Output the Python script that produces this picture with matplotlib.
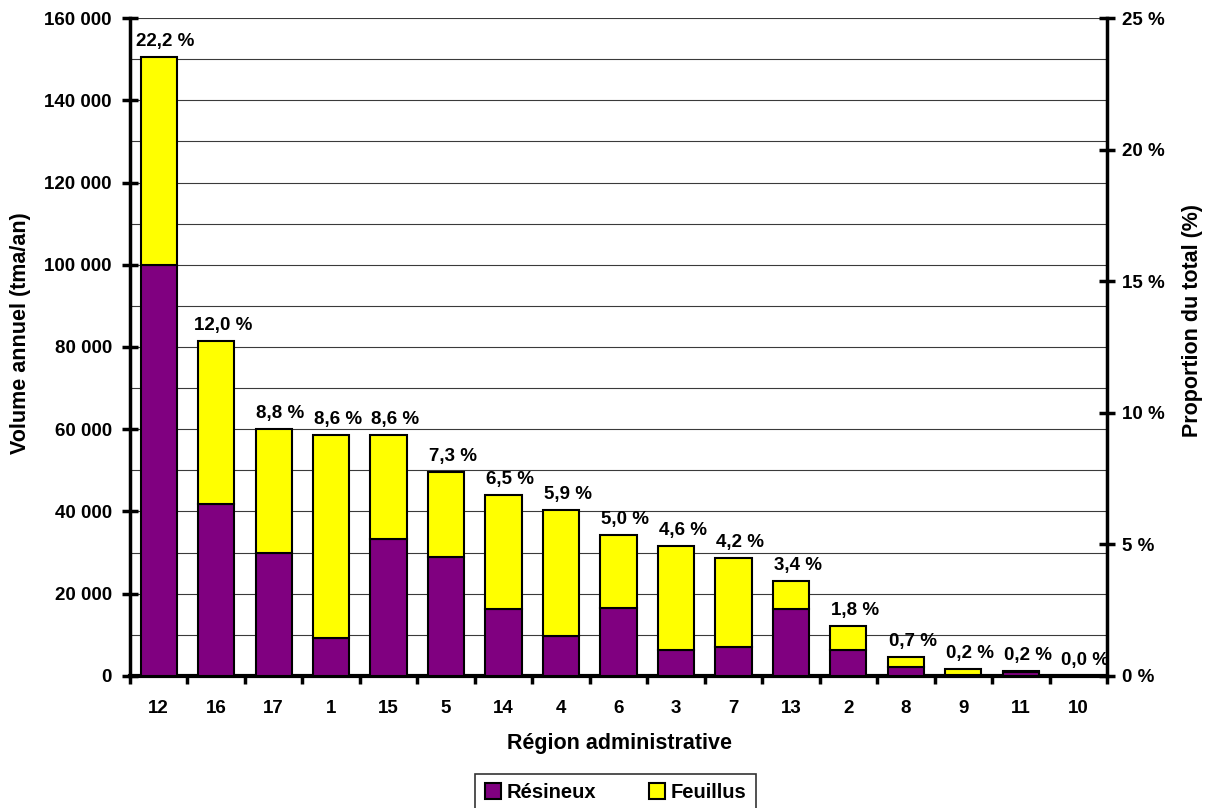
import numpy as np
import matplotlib.pyplot as plt
from matplotlib.ticker import FuncFormatter, MultipleLocator

plt.rcParams['font.family'] = ['Liberation Sans', 'DejaVu Sans']
plt.rcParams['font.weight'] = 'bold'
plt.rcParams['font.size'] = 13

# valeurs (tma/an)
regions = ['12', '16', '17', '1', '15', '5', '14', '4', '6', '3', '7', '13', '2', '8', '9', '11', '10']
resineux = [100000, 41900, 30000, 9200, 33200, 28900, 16200, 9600, 16500, 6300, 7100, 16200, 6300, 2100, 300, 900, 50]
feuillus = [50500, 39500, 30000, 49300, 25300, 20600, 27900, 30700, 17700, 25200, 21600, 6800, 5800, 2500, 1400, 300, 50]
proportion = [22.2, 12.0, 8.8, 8.6, 8.6, 7.3, 6.5, 5.9, 5.0, 4.6, 4.2, 3.4, 1.8, 0.7, 0.2, 0.2, 0.0]

x = np.arange(len(regions))
resineux = np.array(resineux)
feuillus = np.array(feuillus)
total = resineux + feuillus

fig = plt.figure(figsize=(12.1, 8.08), dpi=100)
ax = fig.add_axes([0.1074, 0.1634, 0.8075, 0.8143])

ax.bar(x, resineux, width=0.63, color='#800080', edgecolor='black', linewidth=1.5, label='Résineux', zorder=3)
ax.bar(x, feuillus, width=0.63, bottom=resineux, color='#ffff00', edgecolor='black', linewidth=1.5,
       label='Feuillus', zorder=3)

for xi, t, p in zip(x, total, proportion):
    lab = f'{p:.1f} %'.replace('.', ',')
    ax.annotate(lab, (xi, t), xytext=(5, 5), textcoords='offset points',
                ha='center', va='bottom', fontsize=13.5, fontweight='bold')

ax.set_xlim(-0.5, len(regions) - 0.5)
ax.set_ylim(0, 160000)
ax.yaxis.set_major_locator(MultipleLocator(20000))
ax.yaxis.set_minor_locator(MultipleLocator(10000))
ax.yaxis.set_major_formatter(FuncFormatter(lambda v, pos: f'{int(v):,}'.replace(',', ' ')))
ax.grid(axis='y', which='both', color='#3a3a3a', linewidth=0.8, zorder=0)
ax.set_axisbelow(True)

ax.set_xticks(x)
ax.set_xticklabels(regions)
ax.set_xticks(np.arange(-0.5, len(regions)), minor=True)
ax.tick_params(axis='x', which='major', length=0, pad=17, labelsize=13.5)
ax.tick_params(axis='x', which='minor', length=6, width=2.5, direction='out')
ax.tick_params(axis='y', which='major', length=12, width=2.5, direction='inout', labelsize=13.5, pad=7)
ax.tick_params(axis='y', which='minor', length=0)

for s in ['top', 'right']:
    ax.spines[s].set_visible(False)
ax.spines['left'].set_linewidth(2.5)
ax.spines['bottom'].set_linewidth(3)

ax.set_ylabel('Volume annuel (tma/an)', fontsize=15.5, fontweight='bold')
ax.yaxis.set_label_coords(-0.112, 0.521)
ax.yaxis.label.set_va('center')
ax.set_xlabel('Région administrative', fontsize=15.5, fontweight='bold')
ax.xaxis.set_label_coords(0.5015, -0.103)
ax.xaxis.label.set_va('center')

ax2 = ax.twinx()
ax2.set_ylim(0, 25)
ax2.yaxis.set_major_locator(MultipleLocator(5))
ax2.yaxis.set_major_formatter(FuncFormatter(lambda v, pos: f'{int(v)} %'))
ax2.tick_params(axis='y', length=12, width=2.5, direction='inout', labelsize=13.5, pad=5)
for s in ['top', 'left', 'bottom']:
    ax2.spines[s].set_visible(False)
ax2.spines['right'].set_linewidth(2.5)
ax2.set_ylabel('Proportion du total (%)', fontsize=15.5, fontweight='bold')
ax2.yaxis.set_label_coords(1.087, 0.541)
ax2.yaxis.label.set_va('center')

leg = ax.legend(loc='upper center', bbox_to_anchor=(0.497, -0.149), borderaxespad=0, ncol=2,
                frameon=True, fancybox=False, edgecolor='black', handlelength=0.8, handleheight=0.8,
                handletextpad=0.3, columnspacing=2.6, borderpad=0.45,
                prop={'weight': 'bold', 'size': 14.5})
leg.get_frame().set_linewidth(1.2)

fig.savefig('out.png', dpi=100)
